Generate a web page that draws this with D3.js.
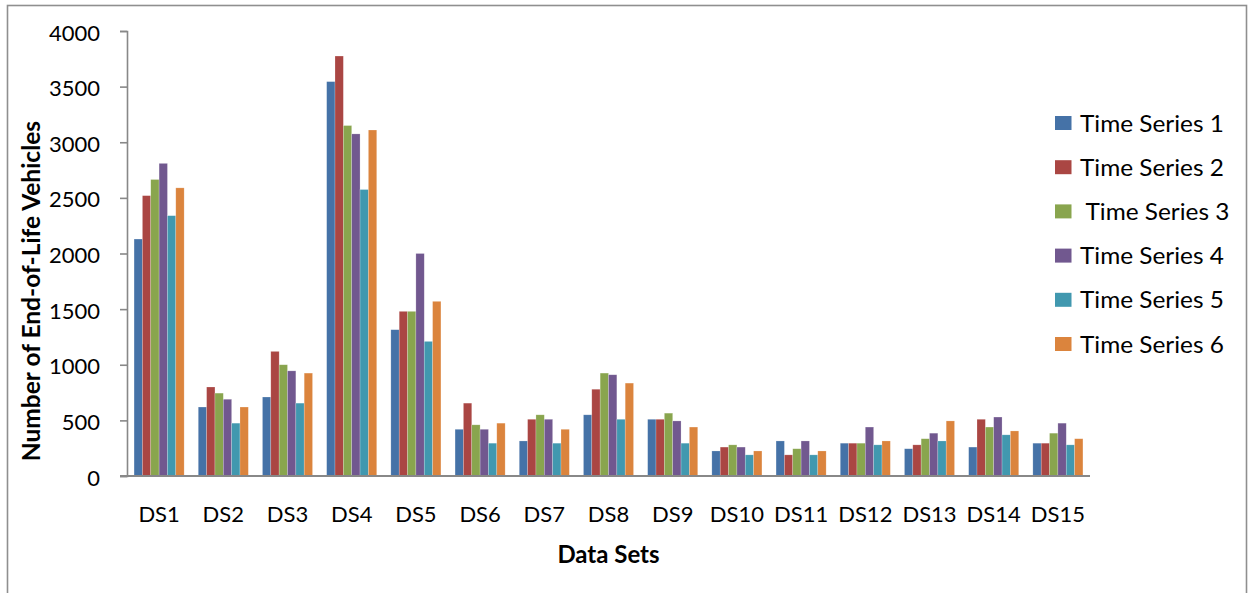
<!DOCTYPE html>
<html>
<head>
<meta charset="utf-8">
<script src="https://cdn.jsdelivr.net/npm/d3@7"></script>
<style>
  html, body { margin: 0; padding: 0; background: #fff; }
  svg { display: block; }
  text { font-family: Lato, "Open Sans", sans-serif; fill: #000; white-space: pre; }
</style>
</head>
<body>
<svg id="chart" width="1249" height="593"></svg>
<script>
// Data sets on the x axis
const categories = ["DS1","DS2","DS3","DS4","DS5","DS6","DS7","DS8","DS9","DS10","DS11","DS12","DS13","DS14","DS15"];

// One array per time series, one value per data set
const series1 = [2130, 620, 710, 3545, 1315, 420, 315, 550, 510, 225, 315, 295, 245, 260, 295];
const series2 = [2520, 800, 1120, 3775, 1480, 655, 510, 780, 510, 260, 190, 295, 280, 510, 295];
const series3 = [2665, 745, 1000, 3150, 1480, 460, 550, 925, 565, 280, 245, 295, 335, 440, 385];
const series4 = [2810, 690, 945, 3075, 2000, 420, 510, 910, 495, 260, 315, 440, 385, 530, 475];
const series5 = [2340, 475, 655, 2575, 1210, 295, 295, 510, 295, 190, 190, 280, 315, 370, 280];
const series6 = [2590, 620, 925, 3110, 1570, 475, 420, 835, 440, 225, 225, 315, 495, 405, 335];

const seriesNames = ["Time Series 1", "Time Series 2", " Time Series 3", "Time Series 4", "Time Series 5", "Time Series 6"];
const seriesColors = ["#4572A7", "#AA4643", "#89A54E", "#71588F", "#4198AF", "#DB843D"];
const yTicks = [0, 500, 1000, 1500, 2000, 2500, 3000, 3500, 4000];

const seriesValues = [series1, series2, series3, series4, series5, series6];

const svg = d3.select("#chart");

function label(g, x, y, txt, opts = {}) {
  const sx = opts.sx || 1;
  return g.append("text")
    .attr("transform", `translate(${x},${y}) scale(${sx},1)`)
    .attr("text-anchor", opts.anchor || "start")
    .attr("font-size", opts.size || 22)
    .attr("font-weight", opts.weight || "normal")
    .text(txt);
}

// outer frame
svg.append("rect")
  .attr("x", 7.5).attr("y", 5.5)
  .attr("width", 1239).attr("height", 620)
  .attr("fill", "none").attr("stroke", "#8f8f8f").attr("stroke-width", 1.6);

const plot = { left: 127, right: 1090, top: 31, bottom: 476 };

const x = d3.scaleBand().domain(categories)
  .range([plot.left, plot.right]).paddingInner(0.22).paddingOuter(0.11);
const xs = d3.scaleBand().domain(d3.range(seriesNames.length))
  .range([0, x.bandwidth()]);
const y = d3.scaleLinear().domain([0, 4000]).range([plot.bottom, plot.top]);

// bars
const groups = svg.append("g").selectAll("g")
  .data(categories).join("g")
  .attr("transform", d => `translate(${x(d)},0)`);

groups.selectAll("rect")
  .data((d, i) => seriesValues.map((vals, s) => ({ s, v: vals[i] })))
  .join("rect")
  .attr("x", d => xs(d.s))
  .attr("width", xs.bandwidth())
  .attr("y", d => y(d.v))
  .attr("height", d => y(0) - y(d.v))
  .attr("fill", d => seriesColors[d.s])
  .attr("stroke", "#ffffff").attr("stroke-opacity", 0.35).attr("stroke-width", 0.6);

// y axis
const yAxis = svg.append("g")
  .attr("transform", `translate(${plot.left},0)`)
  .call(d3.axisLeft(y).tickValues(yTicks).tickSize(7).tickFormat(""));
yAxis.select(".domain").attr("stroke", "#888").attr("stroke-width", 1.6);
yAxis.selectAll(".tick line").attr("stroke", "#888").attr("stroke-width", 1.6);

const yLab = svg.append("g");
yTicks.forEach(t => label(yLab, 100, y(t) + 9.5, String(t), { anchor: "end", size: 22 }));

// x axis
svg.append("line")
  .attr("x1", plot.left - 7).attr("x2", plot.right)
  .attr("y1", y(0)).attr("y2", y(0))
  .attr("stroke", "#888").attr("stroke-width", 2);

const xLab = svg.append("g");
categories.forEach(c => label(xLab, x(c) + x.bandwidth() / 2, 522, c, { anchor: "middle", size: 22 }));

// axis titles
label(svg, (plot.left + plot.right) / 2, 563, "Data Sets", { anchor: "middle", size: 24, weight: "bold" });
svg.append("text")
  .attr("transform", "translate(40,291) rotate(-90)")
  .attr("text-anchor", "middle")
  .attr("font-size", 24.5).attr("font-weight", "bold")
  .text("Number of End-of-Life Vehicles");

// legend
const legend = svg.append("g");
seriesNames.forEach((name, i) => {
  const cy = 123 + i * 44.2;
  legend.append("rect")
    .attr("x", 1055).attr("y", cy - 7)
    .attr("width", 16.5).attr("height", 14)
    .attr("fill", seriesColors[i]);
  label(legend, 1080, cy + 8.5, name, { size: 23, sx: 1.06 });
});
</script>
</body>
</html>
